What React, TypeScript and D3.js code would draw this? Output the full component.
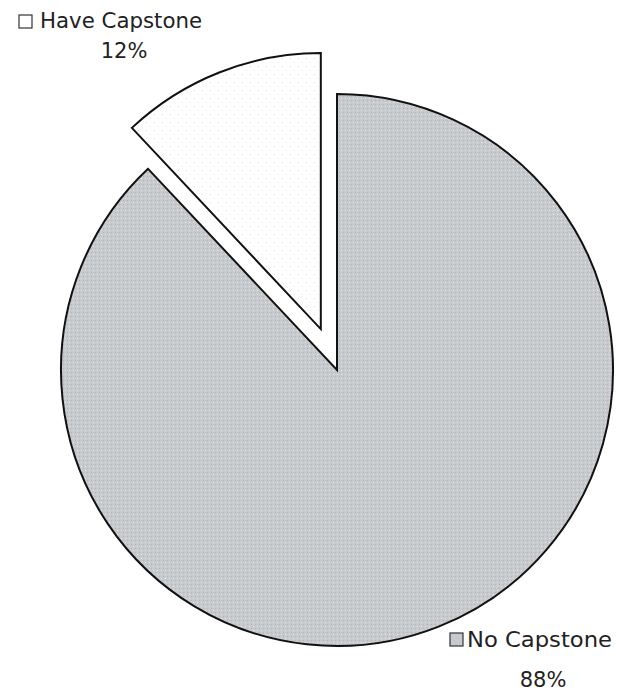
import React from "react";
import * as d3 from "d3";

const categories = ["No Capstone", "Have Capstone"];
const values = [88, 12];
const pctLabels = ["88%", "12%"];

const W = 618;
const H = 695;
const cx = 337;
const cy = 370;
const R = 276;
const explode = [0, 44];

export default function App() {
  const pie = d3
    .pie<number>()
    .sort(null)
    .value((d) => d)(values);
  const arc = d3.arc<d3.PieArcDatum<number>>().innerRadius(0).outerRadius(R);
  const fills = ["url(#grayDots)", "url(#whiteDots)"];

  const labelPos = [
    { sq: [450, 633], tx: 467, ty: 647, tl: 145, px: 543, py: 687, pl: 45 },
    { sq: [19, 15], tx: 40, ty: 28, tl: 162, px: 124, py: 58, pl: 47 },
  ];

  return (
    <svg
      width={W}
      height={H}
      style={{ position: "absolute", left: 0, top: 0, background: "#fff" }}
      fontFamily="DejaVu Sans, sans-serif"
    >
      <defs>
        <pattern id="grayDots" width="4" height="4" patternUnits="userSpaceOnUse">
          <rect width="4" height="4" fill="#c6cacd" />
          <rect x="0" y="0" width="1" height="1" fill="#e6e9eb" />
          <rect x="2" y="2" width="1" height="1" fill="#b2b6ba" />
        </pattern>
        <pattern id="whiteDots" width="8" height="8" patternUnits="userSpaceOnUse">
          <rect width="8" height="8" fill="#ffffff" />
          <rect x="1" y="1" width="1" height="1" fill="#d4d6d8" />
          <rect x="5" y="5" width="1" height="1" fill="#e4e6e8" />
        </pattern>
      </defs>
      {pie.map((p, i) => {
        const mid = (p.startAngle + p.endAngle) / 2;
        const dx = Math.sin(mid) * explode[i];
        const dy = -Math.cos(mid) * explode[i];
        return (
          <path
            key={categories[i]}
            d={arc(p) || ""}
            transform={`translate(${cx + dx},${cy + dy})`}
            fill={fills[i]}
            stroke="#111"
            strokeWidth={2}
            strokeLinejoin="miter"
          />
        );
      })}
      {categories.map((c, i) => {
        const l = labelPos[i];
        return (
          <g key={c} fill="#222">
            <rect
              x={l.sq[0]}
              y={l.sq[1]}
              width={13}
              height={13}
              fill={i === 0 ? "#c6cacd" : "#fff"}
              stroke="#333"
              strokeWidth={1.2}
            />
            <text x={l.tx} y={l.ty} fontSize={21} textLength={l.tl} lengthAdjust="spacingAndGlyphs">
              {c}
            </text>
            <text x={l.px} y={l.py} fontSize={21} textAnchor="middle">
              {pctLabels[i]}
            </text>
          </g>
        );
      })}
    </svg>
  );
}
